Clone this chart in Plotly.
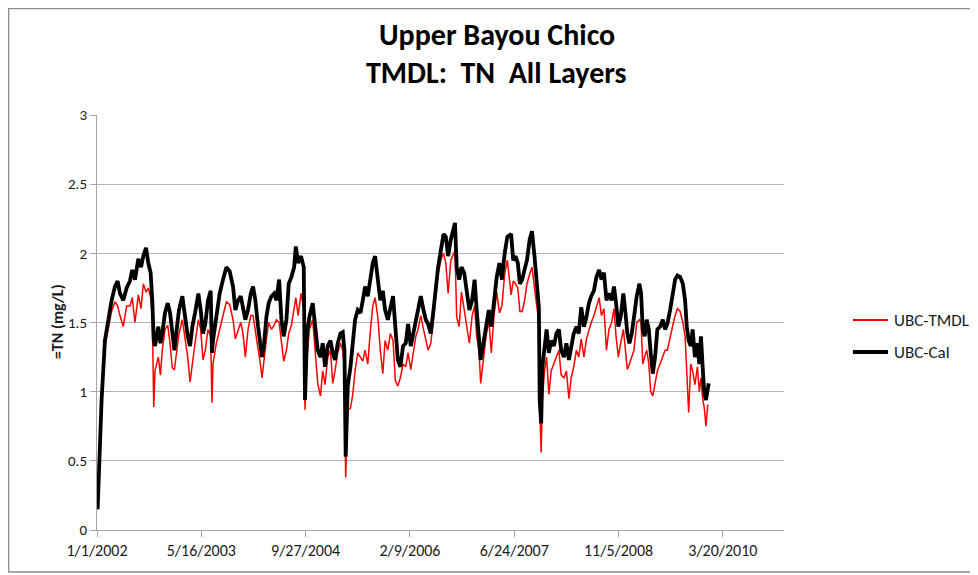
import pandas as pd
import plotly.graph_objects as go

start_date = "2002-01-01"

days = [
    3, 22, 38, 54, 70, 86, 99, 110, 126, 142, 158, 169, 182, 198, 211, 222, 235, 246, 257, 265,
    272, 278, 286, 294, 304, 313, 326, 339, 350, 361, 371, 382, 393, 409, 422, 435, 446, 457, 470, 486,
    497, 508, 519, 532, 545, 551, 556, 572, 588, 604, 620, 636, 652, 663, 676, 689, 700, 711, 724, 737,
    748, 759, 772, 783, 791, 801, 812, 823, 836, 849, 860, 873, 884, 895, 908, 919, 932, 945, 953, 964,
    978, 991, 997, 1007, 1018, 1034, 1045, 1058, 1071, 1082, 1093, 1106, 1119, 1130, 1141, 1154, 1167,
    1178, 1186, 1192, 1202, 1215, 1226, 1237, 1250, 1263, 1274, 1285, 1298, 1311, 1322, 1333, 1346,
    1358, 1370, 1381, 1394, 1406, 1419, 1430, 1442, 1454, 1467,
    1480, 1491, 1504, 1516, 1528, 1539, 1552, 1565, 1576, 1587, 1600, 1613, 1624, 1635, 1648, 1661,
    1672, 1683, 1696, 1708, 1716, 1724, 1736, 1747, 1760, 1772, 1785, 1798, 1810, 1820, 1831, 1839,
    1852, 1865, 1878, 1890, 1903, 1916, 1929, 1941, 1954, 1967,
    1985, 1995, 2006, 2017, 2027, 2038, 2049, 2061, 2074, 2085, 2097, 2110, 2118, 2122, 2129, 2135,
    2145, 2155, 2166, 2177, 2190, 2202, 2214, 2225, 2238, 2250, 2262, 2273, 2285, 2298, 2309, 2321,
    2334, 2346, 2358, 2369, 2382, 2394, 2407, 2418, 2430, 2442, 2454,
    2467, 2478, 2488, 2499, 2510, 2523, 2533, 2542, 2552, 2563, 2574, 2587, 2600, 2608, 2616, 2625,
    2635, 2645, 2654, 2664, 2675, 2686, 2699, 2712, 2723, 2734, 2747, 2760, 2771, 2782, 2795, 2808,
    2819, 2827, 2836, 2846, 2855, 2866, 2878, 2887, 2895, 2903, 2911, 2919, 2927, 2932,
]

ubc_cal = [
    0.15, 0.94, 1.37, 1.52, 1.66, 1.76, 1.80, 1.71, 1.66, 1.75, 1.80, 1.88, 1.81, 1.96, 1.90, 1.98, 2.04, 1.93, 1.86, 1.66,
    1.37, 1.33, 1.40, 1.47, 1.35, 1.42, 1.57, 1.64, 1.57, 1.42, 1.30, 1.45, 1.59, 1.69, 1.54, 1.40, 1.33, 1.47, 1.57, 1.71,
    1.59, 1.42, 1.49, 1.66, 1.73, 1.28, 1.37, 1.52, 1.71, 1.81, 1.90, 1.87, 1.76, 1.59, 1.66, 1.69, 1.61, 1.52, 1.59, 1.71,
    1.76, 1.66, 1.47, 1.33, 1.25, 1.35, 1.54, 1.64, 1.69, 1.71, 1.66, 1.81, 1.52, 1.40, 1.52, 1.78, 1.83, 1.90, 2.05, 1.93,
    1.98, 1.90, 0.94, 1.42, 1.54, 1.64, 1.47, 1.30, 1.25, 1.35, 1.18, 1.33, 1.37, 1.28, 1.23, 1.35, 1.42,
    1.43, 1.30, 0.53, 1.04, 1.18, 1.35, 1.52, 1.59, 1.57, 1.66, 1.76, 1.69, 1.81, 1.93, 1.98, 1.83,
    1.66, 1.73, 1.59, 1.52, 1.61, 1.69, 1.47, 1.23, 1.18, 1.33,
    1.35, 1.49, 1.33, 1.42, 1.54, 1.61, 1.69, 1.59, 1.52, 1.49, 1.42, 1.59, 1.76, 1.90, 2.02, 2.14,
    2.12, 1.98, 2.10, 2.19, 2.22, 1.90, 1.81, 1.90, 1.86, 1.73, 1.59, 1.66, 1.81, 1.59, 1.37, 1.23,
    1.35, 1.47, 1.59, 1.47, 1.66, 1.83, 1.93, 1.81, 2.00, 2.12,
    2.14, 1.95, 1.98, 1.93, 1.78, 1.81, 1.88, 1.95, 2.10, 2.16, 1.98, 1.78, 1.61, 0.94, 0.77, 1.18,
    1.35, 1.45, 1.28, 1.37, 1.33, 1.42, 1.45, 1.30, 1.25, 1.35, 1.23, 1.33, 1.42, 1.47, 1.42, 1.61,
    1.47, 1.54, 1.64, 1.69, 1.73, 1.83, 1.88, 1.81, 1.86, 1.66, 1.71,
    1.66, 1.76, 1.64, 1.47, 1.54, 1.71, 1.57, 1.42, 1.35, 1.42, 1.54, 1.69, 1.78, 1.71, 1.45, 1.40,
    1.52, 1.45, 1.28, 1.13, 1.25, 1.45, 1.47, 1.52, 1.45, 1.49, 1.59, 1.73, 1.81, 1.84, 1.83, 1.78,
    1.66, 1.47, 1.37, 1.33, 1.45, 1.25, 1.35, 1.20, 1.40, 1.18, 0.99, 0.94, 1.04, 1.06,
]

ubc_tmdl = [
    0.15, 0.92, 1.33, 1.45, 1.58, 1.65, 1.62, 1.55, 1.47, 1.62, 1.62, 1.68, 1.50, 1.70, 1.60, 1.78, 1.72, 1.75, 1.68, 1.55,
    0.89, 1.15, 1.20, 1.25, 1.12, 1.30, 1.45, 1.48, 1.35, 1.17, 1.16, 1.30, 1.42, 1.52, 1.40, 1.25, 1.07, 1.22, 1.35, 1.52,
    1.45, 1.23, 1.30, 1.45, 1.40, 0.92, 1.20, 1.35, 1.45, 1.55, 1.65, 1.63, 1.52, 1.38, 1.45, 1.50, 1.42, 1.25, 1.45, 1.55,
    1.55, 1.45, 1.30, 1.20, 1.10, 1.25, 1.38, 1.50, 1.45, 1.48, 1.52, 1.50, 1.35, 1.22, 1.30, 1.42, 1.48, 1.60, 1.68, 1.55,
    1.71, 1.60, 0.87, 1.25, 1.45, 1.52, 1.32, 1.06, 0.97, 1.15, 1.05, 1.25, 1.30, 1.06, 1.15, 1.28, 1.35,
    1.30, 1.15, 0.38, 0.87, 0.88, 0.98, 1.15, 1.28, 1.25, 1.22, 1.30, 1.20, 1.45, 1.62, 1.68, 1.54,
    1.30, 1.13, 1.37, 1.30, 1.42, 1.37, 1.08, 1.04, 1.10, 1.20,
    1.18, 1.28, 1.16, 1.30, 1.40, 1.45, 1.55, 1.45, 1.38, 1.30, 1.35, 1.55, 1.70, 1.85, 1.95, 2.00,
    1.93, 1.71, 1.95, 2.00, 2.02, 1.54, 1.47, 1.72, 1.60, 1.50, 1.35, 1.55, 1.62, 1.40, 1.30, 1.06,
    1.25, 1.40, 1.52, 1.28, 1.55, 1.72, 1.57, 1.62, 1.85, 1.95,
    1.70, 1.80, 1.78, 1.75, 1.58, 1.58, 1.65, 1.78, 1.85, 1.90, 1.75, 1.60, 1.50, 0.90, 0.56, 0.95,
    1.15, 1.25, 0.98, 1.15, 1.20, 1.25, 1.30, 1.12, 1.10, 1.15, 0.95, 1.10, 1.18, 1.30, 1.25, 1.38,
    1.25, 1.38, 1.45, 1.50, 1.55, 1.62, 1.68, 1.55, 1.60, 1.30, 1.45,
    1.50, 1.60, 1.40, 1.25, 1.35, 1.45, 1.30, 1.16, 1.20, 1.25, 1.30, 1.50, 1.52, 1.50, 1.20, 1.25,
    1.30, 1.20, 1.00, 0.97, 1.05, 1.15, 1.20, 1.25, 1.30, 1.30, 1.40, 1.48, 1.55, 1.60, 1.58, 1.50,
    1.40, 1.10, 0.85, 1.20, 1.15, 1.05, 1.18, 1.00, 1.10, 0.95, 0.88, 0.75, 0.90, 0.90,
]

series_names = ["UBC-TMDL", "UBC-Cal"]
series_colors = ["#ff0000", "#000000"]
series_widths = [1.5, 3.8]
title_lines = ["Upper Bayou Chico", "TMDL:  TN  All Layers"]
y_axis_title = "=TN (mg/L)"
y_ticks = [0, 0.5, 1, 1.5, 2, 2.5, 3]
y_tick_labels = ["0", "0.5", "1", "1.5", "2", "2.5", "3"]
x_tick_step_days = 500
x_axis_end_days = 3293

t0 = pd.Timestamp(start_date)
dates = t0 + pd.to_timedelta(days, unit="D")
x_end = t0 + pd.Timedelta(days=x_axis_end_days)

FONT = "Carlito, Lato, sans-serif"
TXT = "#1a1a1a"

fig = go.Figure()
for vals, name, col, w in zip([ubc_tmdl, ubc_cal], series_names, series_colors, series_widths):
    fig.add_trace(go.Scatter(x=dates, y=vals, mode="lines", name=name,
                             line=dict(color=col, width=w), showlegend=False))

fig.update_layout(
    width=970, height=567,
    margin=dict(l=89, r=194, t=107, b=45),
    paper_bgcolor="white", plot_bgcolor="white",
    font=dict(family=FONT, size=15, color=TXT),
    showlegend=False,
    xaxis=dict(
        range=[t0, x_end], type="date",
        tick0=t0, dtick=x_tick_step_days * 86400000,
        tickformat="%-m/%-d/%Y",
        showgrid=False, showline=True, linecolor="#a6a6a6", linewidth=1,
        ticks="outside", ticklen=6, tickcolor="#a6a6a6",
        tickfont=dict(family=FONT, size=16, color=TXT),
        zeroline=False,
    ),
    yaxis=dict(
        range=[0, 3], tickvals=y_ticks, ticktext=y_tick_labels,
        showgrid=True, gridcolor="#b3b3b3", gridwidth=1,
        showline=True, linecolor="#a6a6a6", linewidth=1,
        ticks="outside", ticklen=6, tickcolor="#a6a6a6",
        tickfont=dict(family=FONT, size=15, color=TXT),
        zeroline=False,
    ),
)

# legend (drawn as keys + labels to the right of the plot)
legend_y = [0.506, 0.4289]
for name, col, w, ly in zip(series_names, series_colors, series_widths, legend_y):
    fig.add_shape(type="line", xref="paper", yref="paper",
                  x0=1.1004, x1=1.1514, y0=ly, y1=ly,
                  line=dict(color=col, width=max(w, 2.5) if col == "#000000" else 2))
    fig.add_annotation(text=name, xref="paper", yref="paper", x=1.1572, y=ly,
                       xanchor="left", yanchor="middle", showarrow=False,
                       font=dict(family=FONT, size=17, color=TXT))

# title (two centered lines over the whole chart area)
fig.add_annotation(text="<b>%s</b>" % title_lines[0], xref="paper", yref="paper",
                   x=0.582, y=1.1928, xanchor="center", yanchor="middle", showarrow=False,
                   font=dict(family=FONT, size=30, color="#000000"))
fig.add_annotation(text="<b>%s</b>" % title_lines[1], xref="paper", yref="paper",
                   x=0.582, y=1.1035, xanchor="center", yanchor="middle", showarrow=False,
                   font=dict(family=FONT, size=30, color="#000000"))
# y axis title
fig.add_annotation(text="<b>%s</b>" % y_axis_title, xref="paper", yref="paper",
                   x=-0.0582, y=0.501, xanchor="center", yanchor="middle", showarrow=False,
                   textangle=-90, font=dict(family=FONT, size=16, color=TXT))

# chart-area border
fig.add_shape(type="rect", xref="paper", yref="paper",
              x0=-0.1288, x1=1.278, y0=-0.1012, y1=1.2566,
              line=dict(color="#8c8c8c", width=1.5), fillcolor="rgba(0,0,0,0)", layer="below")

fig.write_html("out.html")
